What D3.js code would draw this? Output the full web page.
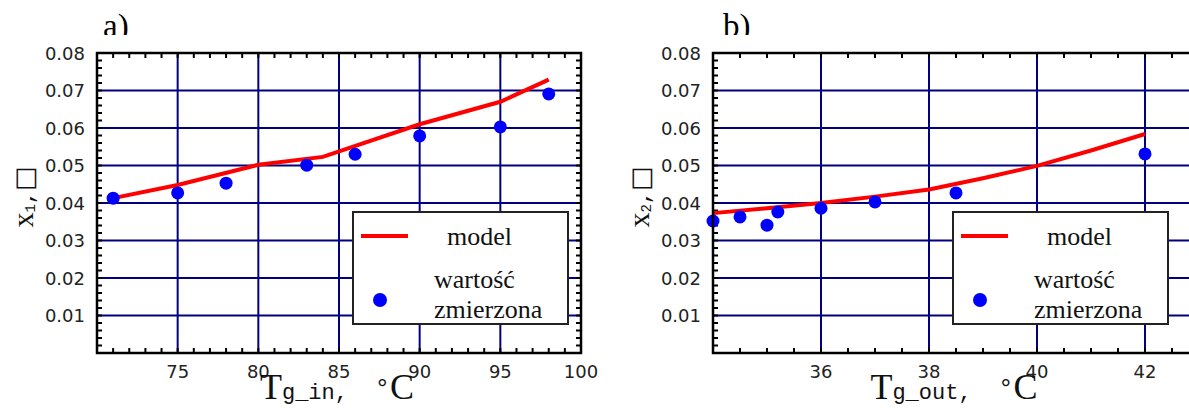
<!DOCTYPE html>
<html>
<head>
<meta charset="utf-8">
<script src="https://cdn.jsdelivr.net/npm/d3@7"></script>
<style>
  html, body { margin: 0; padding: 0; background: #fff; overflow: hidden; }
</style>
</head>
<body>
<div id="vis"></div>
<script>
const width = 1189;
const height = 408;

// panel a) : inlet temperature
const modelInT = [71, 75, 80, 84, 90, 95, 98];
const modelInX = [0.0413, 0.0448, 0.0502, 0.0523, 0.0610, 0.0670, 0.0729];
const measInT = [71, 75, 78, 83, 86, 90, 95, 98];
const measInX = [0.0413, 0.0427, 0.0453, 0.0501, 0.0530, 0.0579, 0.0603, 0.0691];
const xTicksIn = [75, 80, 85, 90, 95, 100];

// panel b) : outlet temperature
const modelOutT = [34, 35, 36, 37, 38, 39, 40, 41, 42];
const modelOutX = [0.0373, 0.0386, 0.0400, 0.0417, 0.0436, 0.0466, 0.0499, 0.0540, 0.0584];
const measOutT = [34, 34.5, 35, 35.2, 36, 37, 38.5, 42];
const measOutX = [0.0352, 0.0363, 0.0341, 0.0376, 0.0386, 0.0403, 0.0427, 0.0531];
const xTicksOut = [36, 38, 40, 42];

const yTicks = [0.01, 0.02, 0.03, 0.04, 0.05, 0.06, 0.07, 0.08];
const legendLabels = ["model", "wartość", "zmierzona"];

const gridColor = "#000080";

let vis = d3.select('#vis')
            .append('svg')
            .attr('width', width)
            .attr('height', height);

// draws one panel
function drawPanel(p) {
    const x = d3.scaleLinear().domain(p.xDomain).range([p.left, p.right]);
    const y = d3.scaleLinear().domain([0, 0.08]).range([p.bottom, p.top]);
    const g = vis.append('g');

    // title (bottom is covered, like in the original)
    g.append('text')
     .attr('x', p.titleX).attr('y', 37)
     .attr('font-family', 'Liberation Serif')
     .attr('font-size', 33)
     .text(p.title);
    g.append('rect')
     .attr('x', p.titleX - 5).attr('y', 35)
     .attr('width', 60).attr('height', 17)
     .attr('fill', '#fff');

    // grid
    g.append('g').selectAll('line')
     .data(p.xTicks.filter(t => t < p.xDomain[1]))
     .enter().append('line')
     .attr('x1', d => x(d)).attr('x2', d => x(d))
     .attr('y1', p.top).attr('y2', p.bottom)
     .attr('stroke', gridColor).attr('stroke-width', 2);
    g.append('g').selectAll('line')
     .data(yTicks.filter(t => t < 0.08))
     .enter().append('line')
     .attr('x1', p.left).attr('x2', p.right)
     .attr('y1', d => y(d)).attr('y2', d => y(d))
     .attr('stroke', gridColor).attr('stroke-width', 2);

    // minor ticks, inward on all sides
    const xMinor = d3.range(p.xDomain[0], p.xDomain[1] + 1e-9, p.xMinor);
    const yMinor = d3.range(0, 0.08 + 1e-9, 0.002);
    const ticks = g.append('g').attr('stroke', '#000').attr('stroke-width', 2);
    ticks.selectAll('.tb').data(xMinor).enter().append('line')
         .attr('x1', d => x(d)).attr('x2', d => x(d))
         .attr('y1', p.bottom).attr('y2', p.bottom - 5);
    ticks.selectAll('.tt').data(xMinor).enter().append('line')
         .attr('x1', d => x(d)).attr('x2', d => x(d))
         .attr('y1', p.top).attr('y2', p.top + 5);
    ticks.selectAll('.tl').data(yMinor).enter().append('line')
         .attr('x1', p.left).attr('x2', p.left + 5)
         .attr('y1', d => y(d)).attr('y2', d => y(d));
    ticks.selectAll('.tr').data(yMinor).enter().append('line')
         .attr('x1', p.right).attr('x2', p.right - 5)
         .attr('y1', d => y(d)).attr('y2', d => y(d));

    // model line
    const line = d3.line().x(d => x(d[0])).y(d => y(d[1]));
    g.append('path')
     .datum(d3.zip(p.modelT, p.modelX))
     .attr('d', line)
     .attr('fill', 'none')
     .attr('stroke', '#ff0000')
     .attr('stroke-width', 4);

    // measured points
    g.append('g').selectAll('circle')
     .data(d3.zip(p.measT, p.measX))
     .enter().append('circle')
     .attr('cx', d => x(d[0]))
     .attr('cy', d => y(d[1]))
     .attr('r', 6.5)
     .attr('fill', '#0000ff');

    // frame
    g.append('rect')
     .attr('x', p.left).attr('y', p.top)
     .attr('width', p.right - p.left).attr('height', p.bottom - p.top)
     .attr('fill', 'none').attr('stroke', '#000').attr('stroke-width', 2.5);

    // tick labels
    g.append('g').selectAll('text')
     .data(yTicks).enter().append('text')
     .attr('x', p.left - 12).attr('y', d => y(d) + 6.5)
     .attr('text-anchor', 'end')
     .attr('font-family', 'DejaVu Sans').attr('font-size', 18)
     .attr('fill', '#222')
     .text(d => d3.format('.2f')(d));
    g.append('g').selectAll('text')
     .data(p.xTicks).enter().append('text')
     .attr('x', d => x(d)).attr('y', 378)
     .attr('text-anchor', 'middle')
     .attr('font-family', 'DejaVu Sans').attr('font-size', 18)
     .attr('fill', '#222')
     .text(d => d);

    // axis titles
    const xl = g.append('text')
                .attr('x', (p.left + p.right) / 2 - 2).attr('y', 399)
                .attr('text-anchor', 'middle')
                .attr('font-family', 'Liberation Mono')
                .attr('fill', '#111');
    xl.append('tspan').attr('font-size', 36).attr('font-family', 'Liberation Serif').text('T');
    xl.append('tspan').attr('font-size', 22).text(p.xName + ',\u00a0\u00a0');
    xl.append('tspan').attr('font-size', 26).attr('dy', -3).text('°');
    xl.append('tspan').attr('font-size', 36).attr('dy', 3).attr('font-family', 'Liberation Serif').text('C');

    const yl = g.append('text')
                .attr('transform', `translate(${p.yLabelX},197) rotate(-90)`)
                .attr('text-anchor', 'middle')
                .attr('font-family', 'Liberation Mono')
                .attr('fill', '#111');
    yl.append('tspan').attr('font-size', 30).attr('font-family', 'Liberation Serif').text('x');
    yl.append('tspan').attr('font-size', 14).attr('dy', 2).text(p.sub);
    yl.append('tspan').attr('font-size', 22).attr('dy', -2).text(',');
    yl.append('tspan').attr('font-size', 26).attr('font-family', 'DejaVu Sans').text('\u25a1');

    // legend
    const lg = g.append('g').attr('transform', `translate(${p.legendX},212)`);
    lg.append('rect')
      .attr('width', 215).attr('height', 112)
      .attr('fill', '#fff').attr('stroke', '#222').attr('stroke-width', 2);
    lg.append('line')
      .attr('x1', 8).attr('x2', 55).attr('y1', 24).attr('y2', 24)
      .attr('stroke', '#ff0000').attr('stroke-width', 4);
    lg.append('circle')
      .attr('cx', 27).attr('cy', 88).attr('r', 7)
      .attr('fill', '#0000ff');
    lg.selectAll('text')
      .data(legendLabels).enter().append('text')
      .attr('x', (d, i) => i === 0 ? 94 : 81)
      .attr('y', (d, i) => [33, 76, 106][i])
      .attr('font-family', 'Liberation Serif').attr('font-size', 26)
      .attr('fill', '#111')
      .text(d => d);
}

drawPanel({
    title: 'a)', titleX: 103,
    left: 97, right: 581, top: 53, bottom: 353,
    xDomain: [70, 100], xMinor: 1, xTicks: xTicksIn,
    modelT: modelInT, modelX: modelInX, measT: measInT, measX: measInX,
    xName: 'g_in', sub: '1', yLabelX: 33, legendX: 353
});

drawPanel({
    title: 'b)', titleX: 723,
    left: 713, right: 1199, top: 53, bottom: 353,
    xDomain: [34, 43], xMinor: 0.5, xTicks: xTicksOut,
    modelT: modelOutT, modelX: modelOutX, measT: measOutT, measX: measOutX,
    xName: 'g_out', sub: '2', yLabelX: 649, legendX: 953
});
</script>
</body>
</html>
